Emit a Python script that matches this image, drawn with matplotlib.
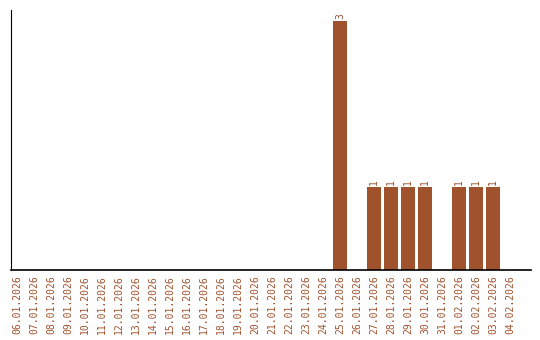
import datetime as dt
import matplotlib
matplotlib.use("Agg")
import matplotlib.pyplot as plt

start = dt.date(2026, 1, 6)
dates = [(start + dt.timedelta(days=i)).strftime("%d.%m.%Y") for i in range(30)]
counts = [0, 0, 0, 0, 0, 0, 0, 0, 0, 0,
          0, 0, 0, 0, 0, 0, 0, 0, 0, 3,
          0, 1, 1, 1, 1, 0, 1, 1, 1, 0]

brown = "#a0522d"

fig = plt.figure(figsize=(5.4, 3.4), dpi=100)
ax = fig.add_axes([10.5 / 540, 70 / 340, 520 / 540, 260 / 340])

x = range(len(dates))
ax.bar(x, counts, width=0.82, color=brown)
for i, c in enumerate(counts):
    if c > 0:
        ax.text(i, c + 0.02, str(c), rotation=90, ha="center", va="bottom",
                color=brown, fontsize=7, family="DejaVu Sans Mono")

ax.set_xlim(-0.38, 30.2)
ax.set_ylim(0, 3.13)
ax.set_xticks(list(x))
ax.set_xticklabels(dates, rotation=90, color=brown, fontsize=7,
                   family="DejaVu Sans Mono")
ax.set_yticks([])
ax.tick_params(axis="x", length=0, pad=4)
ax.spines["top"].set_visible(False)
ax.spines["right"].set_visible(False)
ax.spines["left"].set_linewidth(0.8)
ax.spines["bottom"].set_linewidth(1.2)

fig.savefig("out.png", dpi=100)
